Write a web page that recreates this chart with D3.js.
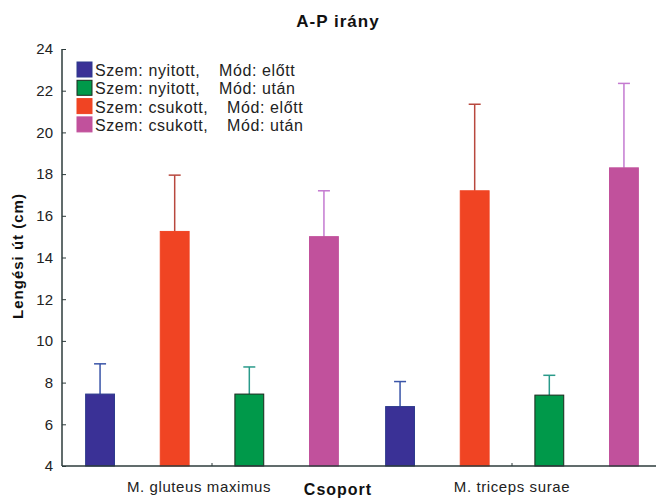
<!DOCTYPE html>
<html>
<head>
<meta charset="utf-8">
<script src="https://cdn.jsdelivr.net/npm/d3@7"></script>
<style>
  body { margin: 0; background: #fff; }
  svg { font-family: "Liberation Sans", Arial, sans-serif; }
</style>
</head>
<body>
<svg id="chart" width="656" height="499"></svg>
<script>
// groups on the x axis
var groups = ["M. gluteus maximus", "M. triceps surae"];

// series (bar order inside a group) and legend order
var series = ["nyitott_elott", "csukott_elott", "nyitott_utan", "csukott_utan"];
var legendSeries = ["nyitott_elott", "nyitott_utan", "csukott_elott", "csukott_utan"];
var legendLeft = { nyitott_elott: "Szem: nyitott,", nyitott_utan: "Szem: nyitott,", csukott_elott: "Szem: csukott,", csukott_utan: "Szem: csukott," };
var legendRight = { nyitott_elott: "Mód: előtt", nyitott_utan: "Mód: után", csukott_elott: "Mód: előtt", csukott_utan: "Mód: után" };

// means and upper error values (cm), per group in order of `groups`
var means = {
  nyitott_elott: [7.45, 6.85],
  csukott_elott: [15.25, 17.2],
  nyitott_utan:  [7.45, 7.4],
  csukott_utan:  [15.0, 18.3]
};
var upper = {
  nyitott_elott: [8.9, 8.05],
  csukott_elott: [17.95, 21.35],
  nyitott_utan:  [8.75, 8.35],
  csukott_utan:  [17.2, 22.35]
};

var yTicks = [4, 6, 8, 10, 12, 14, 16, 18, 20, 22, 24];

var fill = { nyitott_elott: "#3a3196", nyitott_utan: "#00994a", csukott_elott: "#f04423", csukott_utan: "#c1519c" };
var edge = { nyitott_elott: "#2c3a8c", nyitott_utan: "#1b2a1e", csukott_elott: "#f04423", csukott_utan: "#c1519c" };
var errCol = { nyitott_elott: "#3a55a8", nyitott_utan: "#2a9a8a", csukott_elott: "#b8483e", csukott_utan: "#c47ad0" };

var svg = d3.select("#chart");
var mLeft = 62, mRight = 662, mTop = 49, mBottom = 466;

var x0 = d3.scaleBand().domain(groups).range([mLeft, mRight]).padding(0);
var x1 = d3.scaleBand().domain(series).range([0, x0.bandwidth()]).paddingInner(0.6).paddingOuter(0.31);
var y = d3.scaleLinear().domain([4, 24]).range([mBottom, mTop]);

// bars with upper error bars
var g = svg.append("g");
groups.forEach(function(grp, gi){
  series.forEach(function(s){
    var bx = x0(grp) + x1(s);
    var cx = bx + x1.bandwidth() / 2;
    g.append("line")
      .attr("x1", cx).attr("x2", cx)
      .attr("y1", y(means[s][gi])).attr("y2", y(upper[s][gi]))
      .attr("stroke", errCol[s]).attr("stroke-width", 1.5);
    g.append("line")
      .attr("x1", cx - 6).attr("x2", cx + 6)
      .attr("y1", y(upper[s][gi])).attr("y2", y(upper[s][gi]))
      .attr("stroke", errCol[s]).attr("stroke-width", 1.5);
    g.append("rect")
      .attr("x", bx + 0.5).attr("y", y(means[s][gi]))
      .attr("width", x1.bandwidth() - 1)
      .attr("height", y(4) - y(means[s][gi]))
      .attr("fill", fill[s])
      .attr("stroke", edge[s]).attr("stroke-width", 1);
  });
});

// axes
var yAxis = d3.axisLeft(y).tickValues(yTicks).tickSize(-4).tickPadding(9);
var ya = svg.append("g").attr("transform", "translate(" + mLeft + ",0)").call(yAxis);
ya.select(".domain").attr("stroke", "#2d3b3b").attr("stroke-width", 1.5).attr("d", "M0," + mTop + "V" + mBottom);
ya.selectAll(".tick line").attr("stroke", "#2d3b3b");
ya.selectAll(".tick text").attr("font-size", 15).attr("fill", "#222").attr("font-family", "Liberation Sans, Arial, sans-serif");

var xAxis = d3.axisBottom(x0).tickSize(-3).tickPadding(15);
var xa = svg.append("g").attr("transform", "translate(0," + mBottom + ")").call(xAxis);
xa.select(".domain").attr("stroke", "#2d3b3b").attr("stroke-width", 1.5).attr("d", "M" + mLeft + ",0H" + 656);
xa.selectAll(".tick line").attr("stroke", "#2d3b3b");
xa.selectAll(".tick text").attr("font-size", 15).attr("letter-spacing", 0.6).attr("fill", "#222")
  .attr("font-family", "Liberation Sans, Arial, sans-serif")
  .attr("dx", function(d, i){ return i === 0 ? -13 : 0; });

// titles
svg.append("text").attr("x", 338).attr("y", 27).attr("text-anchor", "middle")
  .attr("font-size", 17).attr("letter-spacing", 1).attr("font-weight", "bold").attr("fill", "#111").text("A-P irány");
svg.append("text").attr("transform", "translate(23,256) rotate(-90)").attr("text-anchor", "middle")
  .attr("font-size", 15).attr("letter-spacing", 1).attr("font-weight", "bold").attr("fill", "#111").text("Lengési út (cm)");
svg.append("text").attr("x", 338).attr("y", 495).attr("text-anchor", "middle")
  .attr("font-size", 16).attr("letter-spacing", 1).attr("font-weight", "bold").attr("fill", "#111").text("Csoport");

// legend
var lg = svg.append("g");
legendSeries.forEach(function(s, i){
  var ly = 62 + i * 18.3;
  lg.append("rect").attr("x", 77).attr("y", ly).attr("width", 15).attr("height", 15)
    .attr("fill", fill[s]).attr("stroke", edge[s]);
  lg.append("text").attr("x", 95).attr("y", ly + 14).attr("font-size", 16).attr("letter-spacing", 0.6)
    .attr("fill", "#222").text(legendLeft[s]);
  lg.append("text").attr("x", s.indexOf("nyitott") === 0 ? 219 : 227).attr("y", ly + 14)
    .attr("font-size", 16).attr("letter-spacing", 0.6).attr("fill", "#222").text(legendRight[s]);
});
</script>
</body>
</html>
